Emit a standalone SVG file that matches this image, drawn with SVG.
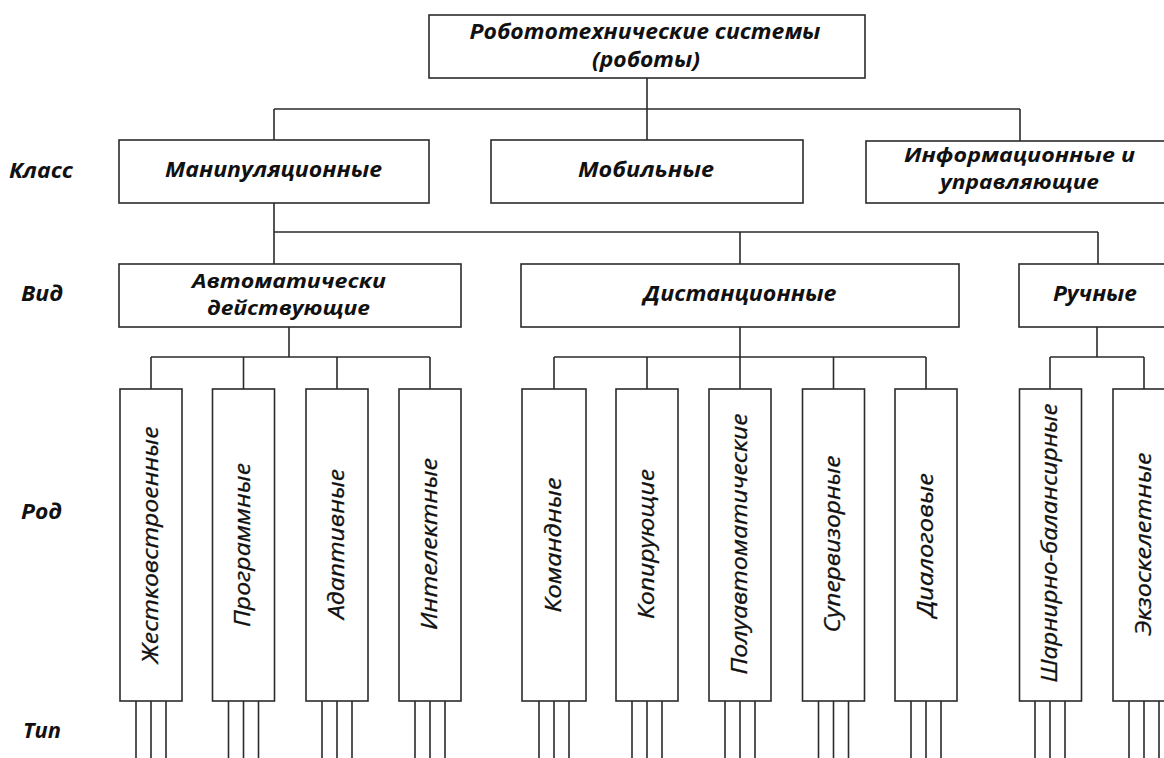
<svg xmlns="http://www.w3.org/2000/svg" width="1164" height="758" viewBox="0 0 1164 758">
<style>
.box{fill:#fff;stroke:#2b2b2b;stroke-width:1.6}
.ln{fill:none;stroke:#2b2b2b;stroke-width:1.6}
.h{font-family:"Open Sans","Noto Sans","DejaVu Sans",sans-serif;font-style:italic;font-weight:bold;font-size:20.5px;fill:#111;text-anchor:middle}
.h2{font-size:19.5px}
.v{font-family:"Open Sans","Noto Sans","DejaVu Sans",sans-serif;font-style:italic;font-weight:normal;font-size:21px;fill:#111;stroke:#111;stroke-width:0.3;text-anchor:middle}
.lab{font-family:"Open Sans","Noto Sans","DejaVu Sans",sans-serif;font-style:italic;font-weight:bold;font-size:20.5px;fill:#111}
</style>
<rect width="1164" height="758" fill="#fff"/>
<g id="connectors">
<path class="ln" d="M647 78V109M274 109H1020M274 109V140M647 109V140M1020 109V141"/>
<path class="ln" d="M274 203V264M274 232H1098M740 232V264M1098 232V264"/>
<path class="ln" d="M289 327V357M151 357H430M151 357V389M243.5 357V389M337 357V389M430 357V389"/>
<path class="ln" d="M740 327V357M554 357H926M554 357V389M647 357V389M740 357V389M833.5 357V389M926 357V389"/>
<path class="ln" d="M1097 327V357M1050 357H1144M1050 357V389M1144 357V389"/>
<path class="ln" d="M136 701V758M151 701V758M166 701V758M228.5 701V758M243.5 701V758M258.5 701V758M322 701V758M337 701V758M352 701V758M415 701V758M430 701V758M445 701V758M539 701V758M554 701V758M569 701V758M632 701V758M647 701V758M662 701V758M725 701V758M740 701V758M755 701V758M818.5 701V758M833.5 701V758M848.5 701V758M911 701V758M926 701V758M941 701V758M1035 701V758M1050 701V758M1065 701V758M1129 701V758M1144 701V758M1159 701V758"/>
</g>
<g id="labels">
<text class="lab" x="9" y="178" textLength="64" lengthAdjust="spacingAndGlyphs">Класс</text>
<text class="lab" x="21" y="301" textLength="42" lengthAdjust="spacingAndGlyphs">Вид</text>
<text class="lab" x="21" y="519" textLength="41" lengthAdjust="spacingAndGlyphs">Род</text>
<text class="lab" x="23" y="738" textLength="38" lengthAdjust="spacingAndGlyphs">Тип</text>
</g>
<g id="root">
<rect class="box" x="429" y="15" width="436" height="63"/>
<text class="h" x="645" y="39" textLength="351" lengthAdjust="spacingAndGlyphs">Робототехнические системы</text>
<text class="h" x="646" y="67" textLength="108" lengthAdjust="spacingAndGlyphs">(роботы)</text>
</g>
<g id="manip">
<rect class="box" x="119" y="140" width="310" height="63"/>
<text class="h" x="273.5" y="177" textLength="217" lengthAdjust="spacingAndGlyphs">Манипуляционные</text>
</g>
<g id="mobile">
<rect class="box" x="491" y="140" width="312" height="63"/>
<text class="h" x="646" y="177" textLength="136" lengthAdjust="spacingAndGlyphs">Мобильные</text>
</g>
<g id="info">
<rect class="box" x="866" y="141" width="310" height="62"/>
<text class="h h2" x="1019.5" y="162" textLength="231" lengthAdjust="spacingAndGlyphs">Информационные и</text>
<text class="h h2" x="1019.5" y="189" textLength="159" lengthAdjust="spacingAndGlyphs">управляющие</text>
</g>
<g id="auto">
<rect class="box" x="119" y="264" width="342" height="63"/>
<text class="h h2" x="289" y="288" textLength="194" lengthAdjust="spacingAndGlyphs">Автоматически</text>
<text class="h h2" x="288.5" y="315" textLength="163" lengthAdjust="spacingAndGlyphs">действующие</text>
</g>
<g id="dist">
<rect class="box" x="521" y="264" width="438" height="63"/>
<text class="h" x="740" y="301" textLength="193" lengthAdjust="spacingAndGlyphs">Дистанционные</text>
</g>
<g id="manual">
<rect class="box" x="1019" y="264" width="160" height="63"/>
<text class="h" x="1095" y="301" textLength="84" lengthAdjust="spacingAndGlyphs">Ручные</text>
</g>
<g id="r1"><rect class="box" x="120" y="389" width="62" height="312"/><text class="v" transform="translate(157.5,545) rotate(-90)" textLength="237" lengthAdjust="spacingAndGlyphs">Жестковстроенные</text></g>
<g id="r2"><rect class="box" x="212.5" y="389" width="62" height="312"/><text class="v" transform="translate(250,545) rotate(-90)" textLength="164" lengthAdjust="spacingAndGlyphs">Программные</text></g>
<g id="r3"><rect class="box" x="306" y="389" width="62" height="312"/><text class="v" transform="translate(343.5,544) rotate(-90)" textLength="150" lengthAdjust="spacingAndGlyphs">Адаптивные</text></g>
<g id="r4"><rect class="box" x="399" y="389" width="62" height="312"/><text class="v" transform="translate(436.5,544) rotate(-90)" textLength="172" lengthAdjust="spacingAndGlyphs">Интелектные</text></g>
<g id="r5"><rect class="box" x="522" y="389" width="64" height="312"/><text class="v" transform="translate(560.5,545) rotate(-90)" textLength="135" lengthAdjust="spacingAndGlyphs">Командные</text></g>
<g id="r6"><rect class="box" x="616" y="389" width="62" height="312"/><text class="v" transform="translate(653.5,544) rotate(-90)" textLength="150" lengthAdjust="spacingAndGlyphs">Копирующие</text></g>
<g id="r7"><rect class="box" x="709" y="389" width="62" height="312"/><text class="v" transform="translate(746.5,544) rotate(-90)" textLength="261" lengthAdjust="spacingAndGlyphs">Полуавтоматические</text></g>
<g id="r8"><rect class="box" x="802.5" y="389" width="62" height="312"/><text class="v" transform="translate(840,544) rotate(-90)" textLength="177" lengthAdjust="spacingAndGlyphs">Супервизорные</text></g>
<g id="r9"><rect class="box" x="895" y="389" width="62" height="312"/><text class="v" transform="translate(932.5,545) rotate(-90)" textLength="144" lengthAdjust="spacingAndGlyphs">Диалоговые</text></g>
<g id="r10"><rect class="box" x="1019.5" y="389" width="62" height="312"/><text class="v" transform="translate(1057,543) rotate(-90)" textLength="279" lengthAdjust="spacingAndGlyphs">Шарнирно-балансирные</text></g>
<g id="r11"><rect class="box" x="1113" y="389" width="62" height="312"/><text class="v" transform="translate(1150.5,544) rotate(-90)" textLength="183" lengthAdjust="spacingAndGlyphs">Экзоскелетные</text></g>
</svg>
